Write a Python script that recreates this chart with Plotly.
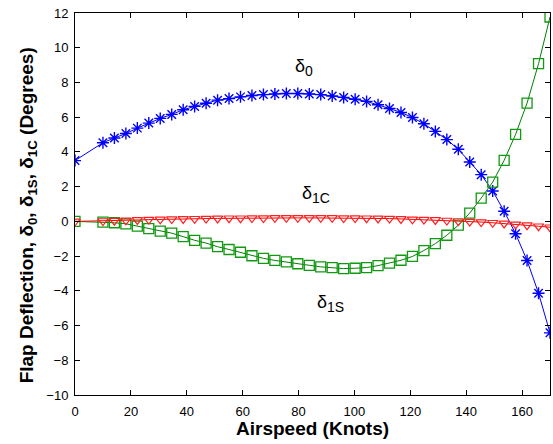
import plotly.graph_objects as go

# Airspeed sample points (knots)
airspeed = [0, 10.00, 14.10, 18.21, 22.31, 26.41, 30.51, 34.62, 38.72, 42.82,
            46.92, 51.03, 55.13, 59.23, 63.33, 67.44, 71.54, 75.64, 79.74, 83.85,
            87.95, 92.05, 96.15, 100.26, 104.36, 108.46, 112.56, 116.67, 120.77, 124.87,
            128.97, 133.08, 137.18, 141.28, 145.38, 149.49, 153.59, 157.69, 161.79, 165.90,
            170.00]

# Collective flap deflection delta_0 (deg)
delta_0 = [3.50, 4.53, 4.80, 5.06, 5.37, 5.66, 5.93, 6.16, 6.43, 6.62,
           6.80, 6.98, 7.07, 7.17, 7.25, 7.30, 7.34, 7.36, 7.36, 7.34,
           7.30, 7.22, 7.14, 7.03, 6.91, 6.72, 6.50, 6.27, 5.98, 5.62,
           5.18, 4.71, 4.15, 3.42, 2.69, 1.75, 0.58, -0.71, -2.25, -4.14,
           -6.42]

# Sine flap deflection delta_1S (deg)
delta_1s = [0.00, -0.04, -0.08, -0.14, -0.27, -0.42, -0.56, -0.68, -0.88, -1.09,
            -1.25, -1.46, -1.62, -1.78, -1.98, -2.13, -2.25, -2.33, -2.44, -2.53,
            -2.62, -2.67, -2.72, -2.70, -2.66, -2.55, -2.40, -2.24, -2.02, -1.68,
            -1.28, -0.80, -0.22, 0.48, 1.34, 2.26, 3.51, 5.01, 6.81, 9.08,
            11.77]

# Cosine flap deflection delta_1C (deg)
delta_1c = [0.00, 0.02, 0.04, 0.06, 0.08, 0.10, 0.12, 0.13, 0.14, 0.15,
            0.16, 0.17, 0.18, 0.18, 0.19, 0.19, 0.20, 0.20, 0.20, 0.20,
            0.20, 0.20, 0.19, 0.19, 0.18, 0.17, 0.16, 0.14, 0.12, 0.10,
            0.08, 0.05, 0.02, -0.01, -0.04, -0.08, -0.12, -0.17, -0.22, -0.28,
            -0.34]

x_ticks = [0, 20, 40, 60, 80, 100, 120, 140, 160]
y_ticks = [-10, -8, -6, -4, -2, 0, 2, 4, 6, 8, 10, 12]

FONT = "Liberation Sans, Arial, sans-serif"

fig = go.Figure()

fig.add_trace(go.Scatter(
    x=airspeed, y=delta_0, mode="lines+markers", name="delta_0",
    line=dict(color="#0000ff", width=1),
    marker=dict(symbol="asterisk", size=10, line=dict(color="#0000ff", width=1.4)),
))
fig.add_trace(go.Scatter(
    x=airspeed, y=delta_1s, mode="lines+markers", name="delta_1S",
    line=dict(color="#008000", width=1),
    marker=dict(symbol="square-open", size=10, color="#119911", line=dict(width=1.3)),
))
fig.add_trace(go.Scatter(
    x=airspeed, y=delta_1c, mode="lines+markers", name="delta_1C",
    line=dict(color="#ff0000", width=1),
    marker=dict(symbol="triangle-down-open", size=9, color="#ff2020", line=dict(width=1.2)),
))

sub = '<sub><span style="font-size:14px">{}</span></sub>'
labels = [
    (78.0, 8.87, "δ" + sub.format("0")),
    (80.5, 1.55, "δ" + sub.format("1C")),
    (85.9, -4.72, "δ" + sub.format("1S")),
]
for lx, ly, txt in labels:
    fig.add_annotation(x=lx, y=ly, text=txt, showarrow=False,
                       xanchor="left", yanchor="middle",
                       font=dict(family=FONT, size=18, color="#000000"))

# Axis titles
fig.add_annotation(xref="paper", yref="paper", x=0.5, y=-0.087,
                   text="Airspeed (Knots)", showarrow=False,
                   xanchor="center", yanchor="middle",
                   font=dict(family=FONT, size=19, color="#000000", weight="bold"))
fig.add_annotation(xref="paper", yref="paper", x=-0.10, y=0.469,
                   text="Flap Deflection, δ<sub>0</sub>, δ<sub>1S</sub>, δ<sub>1C</sub> (Degrees)",
                   textangle=-90, showarrow=False,
                   xanchor="center", yanchor="middle",
                   font=dict(family=FONT, size=19, color="#000000", weight="bold"))

axis_common = dict(
    showgrid=False, zeroline=False, showline=True, linecolor="#000000", linewidth=1,
    mirror="ticks", ticks="inside", ticklen=5, tickwidth=1, tickcolor="#000000",
    tickfont=dict(family=FONT, size=13, color="#000000"),
)

fig.update_xaxes(range=[0, 170], tickvals=x_ticks, ticklabelstandoff=4, **axis_common)
fig.update_yaxes(range=[-10, 12], tickvals=y_ticks, ticklabelstandoff=3, **axis_common)

fig.update_layout(
    width=553, height=444,
    margin=dict(l=75, r=3, t=13, b=49),
    paper_bgcolor="#ffffff", plot_bgcolor="#ffffff",
    showlegend=False,
)

fig.write_html("out.html")
